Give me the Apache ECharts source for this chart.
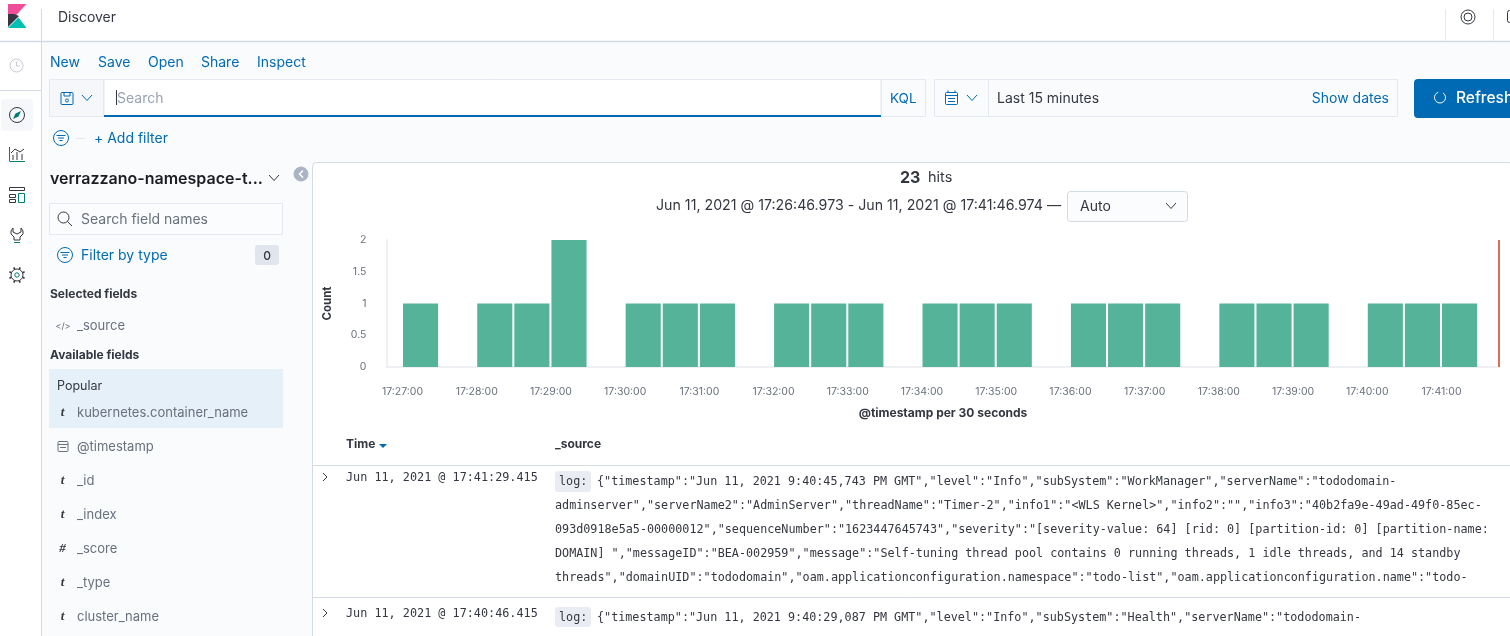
<!DOCTYPE html>
<html>
<head>
<meta charset="utf-8">
<title>Discover</title>
<style>
html, body { margin: 0; padding: 0; background: #fff; overflow: hidden; }
#chart { width: 1510px; height: 636px; }
</style>
<script src="https://cdn.jsdelivr.net/npm/echarts@6/dist/echarts.min.js"></script>
</head>
<body>
<div id="chart"></div>
<script>
// histogram data, 30 second buckets
var bucketStarts = ['17:27:00', '17:27:30', '17:28:00', '17:28:30', '17:29:00', '17:29:30',
    '17:30:00', '17:30:30', '17:31:00', '17:31:30', '17:32:00', '17:32:30', '17:33:00', '17:33:30',
    '17:34:00', '17:34:30', '17:35:00', '17:35:30', '17:36:00', '17:36:30', '17:37:00', '17:37:30',
    '17:38:00', '17:38:30', '17:39:00', '17:39:30', '17:40:00', '17:40:30', '17:41:00', '17:41:30'];
var bucketCounts = [1, 0, 1, 1, 2, 0, 1, 1, 1, 0, 1, 1, 1, 0, 1, 1, 1, 0, 1, 1, 1, 0, 1, 1, 1, 0, 1, 1, 1, 0];
var rangeStart = '17:26:46.973';
var rangeEnd = '17:41:46.974';

var menuLinks = ['New', 'Save', 'Open', 'Share', 'Inspect'];
var fieldNames = ['kubernetes.container_name', '@timestamp', '_id', '_index', '_score', '_type', 'cluster_name'];
var fieldTypes = ['t', 'date', 't', 't', '#', 't', 't'];
var rowTimes = ['Jun 11, 2021 @ 17:41:29.415', 'Jun 11, 2021 @ 17:40:46.415'];
var rowOneLog = [
    '{"timestamp":"Jun 11, 2021 9:40:45,743 PM GMT","level":"Info","subSystem":"WorkManager","serverName":"tododomain-',
    'adminserver","serverName2":"AdminServer","threadName":"Timer-2","info1":"<WLS Kernel>","info2":"","info3":"40b2fa9e-49ad-49f0-85ec-',
    '093d0918e5a5-00000012","sequenceNumber":"1623447645743","severity":"[severity-value: 64] [rid: 0] [partition-id: 0] [partition-name:',
    'DOMAIN] ","messageID":"BEA-002959","message":"Self-tuning thread pool contains 0 running threads, 1 idle threads, and 14 standby',
    'threads","domainUID":"tododomain","oam.applicationconfiguration.namespace":"todo-list","oam.applicationconfiguration.name":"todo-'
];
var rowTwoLog = '{"timestamp":"Jun 11, 2021 9:40:29,087 PM GMT","level":"Info","subSystem":"Health","serverName":"tododomain-';

var BLUE = '#006BB4', DARK = '#343741', GREY = '#69707D', EDGE = '#D3DAE6', LIGHT = '#E4E8F0';
var UI = 'Inter, "Noto Sans", sans-serif';
var MONO = '"DejaVu Sans Mono", monospace';

function toMs(t) {
    return new Date('2021-06-11T' + t).getTime();
}

// page chrome, drawn as graphic elements under the chart
var els = [];
function box(x, y, w, h, fill, stroke, r) {
    els.push({ type: 'rect', silent: true, shape: { x: x, y: y, width: w, height: h, r: r || 0 },
        style: { fill: fill || 'none', stroke: stroke || 'none', lineWidth: 1 } });
}
function txt(x, y, s, fill, size, weight, family, align) {
    els.push({ type: 'text', silent: true, x: x, y: y + 1, style: { text: s, fill: fill || DARK,
        font: (weight || 'normal') + ' ' + (size || 14) + 'px ' + (family || UI),
        textAlign: align || 'left', textVerticalAlign: 'middle', align: align || 'left', verticalAlign: 'middle' } });
}
function line(pts, color, width) {
    els.push({ type: 'polyline', silent: true, shape: { points: pts },
        style: { stroke: color || DARK, lineWidth: width || 1, fill: 'none' } });
}
function ring(x, y, r, color, width, fill) {
    els.push({ type: 'circle', silent: true, shape: { cx: x, cy: y, r: r },
        style: { stroke: color, lineWidth: width || 1, fill: fill || 'none' } });
}
function poly(pts, fill) {
    els.push({ type: 'polygon', silent: true, shape: { points: pts }, style: { fill: fill } });
}
function chevron(x, y, color) {
    line([[x - 5, y - 3], [x, y + 2.5], [x + 5, y - 3]], color, 1);
}
function filterIcon(x, y) {
    ring(x, y, 7.5, BLUE, 1);
    line([[x - 4.5, y - 2.5], [x + 4.5, y - 2.5]], BLUE, 1);
    line([[x - 3, y], [x + 3, y]], BLUE, 1);
    line([[x - 1.5, y + 2.5], [x + 1.5, y + 2.5]], BLUE, 1);
}

// backgrounds
box(42, 42, 1468, 594, '#FAFBFD');
box(312.5, 162.5, 1200, 480, '#fff', EDGE, 4);
line([[0, 41.5], [1510, 41.5]], EDGE, 1.5);
line([[41.5, 9], [41.5, 636]], EDGE, 1);
line([[0, 90.5], [41, 90.5]], EDGE, 1);
line([[1445.5, 9], [1445.5, 41]], LIGHT, 1);
line([[1493.5, 9], [1493.5, 41]], LIGHT, 1);

// logo and nav icons
poly([[8, 4], [26.5, 4], [8, 24]], '#F04E98');
poly([[8, 14], [14, 14], [19, 16], [8, 27]], '#343741');
poly([[8, 28], [26.5, 28], [18.5, 17.5]], '#00BFB3');
ring(16.5, 65.5, 6.5, '#C5CAD2', 1);
line([[16.5, 61.5], [16.5, 66], [20, 66]], '#C5CAD2', 1);
box(1, 99, 32, 32, '#F5F7FA', null, 4);
ring(17, 115, 7.5, DARK, 1);
poly([[21, 111], [18.5, 116.5], [13, 119], [15.5, 113.5]], '#017D73');
line([[9.5, 161.5], [25, 161.5]], '#017D73', 1);
line([[9.5, 147], [9.5, 161]], '#017D73', 1);
line([[11, 153], [15, 149], [20, 152], [24, 149]], DARK, 1);
line([[13, 155], [13, 160]], DARK, 1);
line([[17, 152], [17, 160]], DARK, 1);
line([[22, 154], [22, 160]], DARK, 1);
box(9.5, 187.5, 15, 3, null, DARK);
box(9.5, 194.5, 6, 3, null, DARK);
box(9.5, 199.5, 6, 3, null, DARK);
box(18.5, 193.5, 6, 9, null, '#017D73');
line([[13, 228], [11, 231], [11, 234], [14, 237], [14, 240], [20, 240], [20, 237], [23, 234], [23, 231], [21, 228], [21, 232], [17, 234], [13, 232], [13, 228]], DARK, 1);
line([[14, 242.5], [20, 242.5]], '#017D73', 1);
ring(17, 275, 6, DARK, 1);
ring(17, 275, 2.2, '#017D73', 1);
[0, 1, 2, 3, 4, 5, 6, 7].forEach(function (k) {
    var a = k * Math.PI / 4 + Math.PI / 8;
    line([[17 + 6 * Math.cos(a), 275 + 6 * Math.sin(a)], [17 + 8.2 * Math.cos(a), 275 + 8.2 * Math.sin(a)]], DARK, 1.6);
});

// header
txt(58, 17, 'Discover', DARK, 14);
ring(1468, 17, 7, DARK, 1);
ring(1468, 17, 4, DARK, 1);
box(1507.5, 10.5, 8, 12, null, DARK, 2);

// menu links
var linkX = [50, 98, 148, 201, 257];
menuLinks.forEach(function (name, i) {
    txt(linkX[i], 62, name, BLUE, 14);
});

// query bar
box(49.5, 79.5, 54, 37, '#F5F7FA', LIGHT);
box(104, 79.5, 777, 37, '#fff', LIGHT);
box(881.5, 79.5, 44, 37, '#FAFBFD', LIGHT);
line([[104, 116], [881, 116]], BLUE, 2);
box(61, 92.5, 12, 12, null, BLUE, 1);
ring(67, 100.5, 1.5, BLUE, 1);
line([[64, 92.5], [64, 96], [70, 96], [70, 92.5]], BLUE, 1);
chevron(87, 98, BLUE);
line([[116.5, 90], [116.5, 105]], DARK, 1);
txt(117, 98, 'Search', '#98A2B3', 14);
txt(890, 98, 'KQL', BLUE, 13.5);

// time picker
box(934.5, 79.5, 463, 37, '#FAFBFD', LIGHT);
line([[988.5, 80], [988.5, 116]], LIGHT, 1);
box(945.5, 92.5, 12, 12, null, BLUE, 1);
line([[945.5, 95.5], [957.5, 95.5]], BLUE, 1);
line([[948, 90.5], [948, 93]], BLUE, 1);
line([[955, 90.5], [955, 93]], BLUE, 1);
line([[948, 98.5], [955, 98.5]], BLUE, 1);
line([[948, 101.5], [955, 101.5]], BLUE, 1);
chevron(972, 98, BLUE);
txt(997, 98, 'Last 15 minutes', DARK, 14);
txt(1389, 98, 'Show dates', BLUE, 14, 'normal', UI, 'right');
box(1414, 79, 110, 39, BLUE, null, 4);
els.push({ type: 'arc', silent: true, shape: { cx: 1440, cy: 97.5, r: 5.5, startAngle: -1, endAngle: 4.4 },
    style: { stroke: '#fff', lineWidth: 1, fill: 'none' } });
txt(1456, 97, 'Refresh', '#fff', 15.5, '500');

// filter row
filterIcon(61, 138);
line([[76, 138.5], [85, 138.5]], LIGHT, 1);
txt(94, 138, '+ Add filter', BLUE, 14);

// sidebar
txt(50, 178, 'verrazzano-namespace-t...', '#1A1C21', 16, '600');
chevron(274, 178, DARK);
ring(301, 174, 7, '#ABB4C4', 0, '#ABB4C4');
line([[303, 170.5], [299.5, 174], [303, 177.5]], '#fff', 1.5);
box(49.5, 203.5, 233, 31, '#FBFCFD', LIGHT);
ring(63.5, 217.5, 5.5, DARK, 1);
line([[67.5, 221.5], [72, 226]], DARK, 1);
txt(81, 219, 'Search field names', GREY, 14);
filterIcon(65, 255);
txt(81, 255, 'Filter by type', BLUE, 14);
box(255, 245, 24, 20, '#E0E5EE', null, 3);
txt(267, 255, '0', DARK, 12, '500', UI, 'center');
txt(50, 293, 'Selected fields', DARK, 12, '700');
txt(63, 325, '</>', GREY, 9, 'normal', UI, 'center');
txt(77, 325, '_source', GREY, 13);
txt(50, 354, 'Available fields', DARK, 12, '700');
box(49, 369, 234, 59, '#E6F0F8');
txt(57, 385, 'Popular', DARK, 12.5);

var fieldY = [412, 446, 480, 514, 548, 582, 616];
fieldNames.forEach(function (name, i) {
    if (fieldTypes[i] === 'date') {
        box(58, 441.5, 10, 10, null, GREY, 1);
        line([[58, 444.5], [68, 444.5]], GREY, 1);
        line([[60, 447.5], [66, 447.5]], GREY, 1);
    } else {
        txt(62.5, fieldY[i], fieldTypes[i], DARK, 13, 'italic bold', 'Liberation Serif, serif', 'center');
    }
    txt(77, fieldY[i], name, GREY, 13);
});

// hits header
txt(900, 177, '23', DARK, 16, '700');
txt(928, 177, 'hits', DARK, 14.5);
txt(656, 205, 'Jun 11, 2021 @ ' + rangeStart + ' - Jun 11, 2021 @ ' + rangeEnd + ' \u2014', DARK, 14.2);
box(1067.5, 191.5, 120, 30, '#FBFCFD', EDGE, 3);
txt(1080, 206, 'Auto', DARK, 14);
chevron(1171, 206, DARK);

// doc table
txt(346, 443, 'Time', DARK, 12, '700');
poly([[379, 444], [387, 444], [383, 448]], BLUE);
txt(555, 443, '_source', DARK, 12, '700');
line([[313, 465.5], [1510, 465.5]], EDGE, 1);
line([[313, 597.5], [1510, 597.5]], EDGE, 1);
line([[323, 473], [327, 477], [323, 481]], DARK, 1);
line([[323, 609], [327, 613], [323, 617]], DARK, 1);
txt(346, 477, rowTimes[0], DARK, 11.8, 'normal', MONO);
txt(346, 613, rowTimes[1], DARK, 11.8, 'normal', MONO);
box(555, 471, 36, 21, '#E9EDF3', null, 3);
box(555, 607, 36, 20, '#E9EDF3', null, 3);
txt(559, 481, 'log:', DARK, 11.75, 'normal', MONO);
txt(559, 617, 'log:', DARK, 11.75, 'normal', MONO);
txt(597, 481, rowOneLog[0], DARK, 11.75, 'normal', MONO);
txt(555, 505, rowOneLog[1], DARK, 11.75, 'normal', MONO);
txt(555, 529, rowOneLog[2], DARK, 11.75, 'normal', MONO);
txt(555, 553, rowOneLog[3], DARK, 11.75, 'normal', MONO);
txt(555, 577, rowOneLog[4], DARK, 11.75, 'normal', MONO);
txt(597, 617, rowTwoLog, DARK, 11.75, 'normal', MONO);

var histData = bucketStarts.map(function (t, i) {
    return [toMs(t), bucketCounts[i]];
});

var option = {
    animation: false,
    textStyle: { fontFamily: UI },
    graphic: { elements: els },
    grid: { left: 386.4, right: 10.4, top: 240, bottom: 269 },
    xAxis: {
        type: 'time',
        min: toMs(rangeStart),
        max: toMs(rangeEnd),
        minInterval: 60000,
        maxInterval: 60000,
        name: '@timestamp per 30 seconds',
        nameLocation: 'middle',
        nameGap: 40,
        nameTextStyle: { color: DARK, fontSize: 12, fontWeight: 'bold' },
        axisLine: { lineStyle: { color: '#EEF0F3', width: 2 } },
        axisTick: { show: false },
        splitLine: { show: false },
        axisLabel: {
            color: GREY,
            fontSize: 10.5,
            margin: 19,
            showMinLabel: false,
            showMaxLabel: false,
            hideOverlap: false,
            formatter: function (v) {
                return echarts.time.format(v, '{HH}:{mm}:{ss}');
            }
        }
    },
    yAxis: {
        type: 'value',
        min: 0,
        max: 2,
        interval: 0.5,
        name: 'Count',
        nameLocation: 'middle',
        nameGap: 53,
        nameTextStyle: { color: DARK, fontSize: 11.5, fontWeight: 'bold' },
        axisLine: { show: true, lineStyle: { color: '#EEF0F3', width: 2 } },
        axisTick: { show: false },
        splitLine: { show: false },
        axisLabel: { color: GREY, fontSize: 10.5, margin: 20 }
    },
    series: [{
        type: 'custom',
        data: histData,
        encode: { x: 0, y: 1 },
        renderItem: function (params, api) {
            var start = api.value(0), count = api.value(1);
            if (!count) {
                return null;
            }
            var p0 = api.coord([start, count]);
            var p1 = api.coord([start + 30000, 0]);
            return {
                type: 'rect',
                shape: { x: p0[0] + 0.5, y: p0[1], width: p1[0] - p0[0] - 2, height: p1[1] - p0[1] },
                style: { fill: '#54B399' }
            };
        },
        markLine: {
            silent: true,
            symbol: 'none',
            label: { show: false },
            lineStyle: { color: '#DC6B62', width: 2, type: 'solid' },
            data: [{ xAxis: toMs(rangeEnd) - 500 }]
        }
    }]
};

var chart = echarts.init(document.getElementById('chart'));
chart.setOption(option);
</script>
</body>
</html>
